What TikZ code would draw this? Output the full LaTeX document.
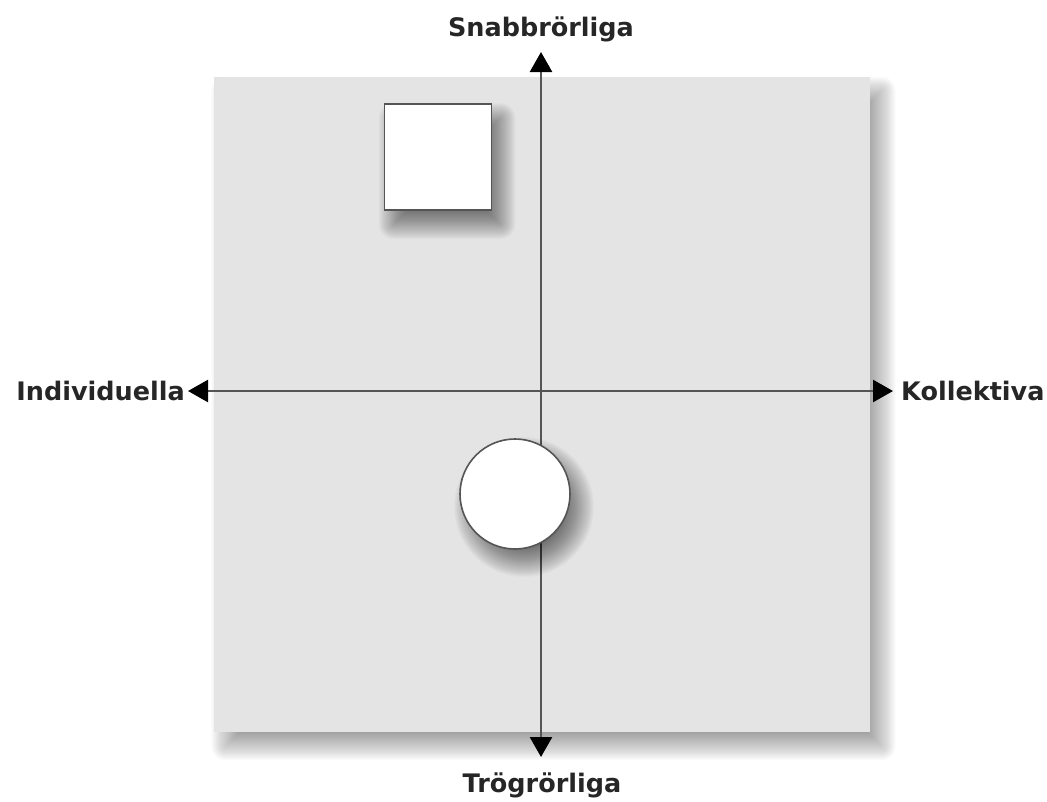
\documentclass[tikz,border=0pt]{standalone}
\usepackage{fontspec}
\setmainfont{DejaVu Sans}
\usetikzlibrary{arrows.meta,calc}
\definecolor{panel}{HTML}{E4E4E4}
\definecolor{axis}{HTML}{555555}
\pgfdeclarelayer{shadowA}
\pgfdeclarelayer{panelL}
\pgfsetlayers{shadowA,panelL,main}
\tikzset{
  axisline/.style={draw=axis, line width=2.6pt, {Triangle[width=22pt,length=20pt,color=black]}-{Triangle[width=22pt,length=20pt,color=black]}},
  lbl/.style={font=\fontsize{25.5}{30}\selectfont\bfseries, text=black!85, inner sep=0pt},
  shadowlayer/.style={fill=black, opacity=0.014},
  whitebox/.style={draw=axis, line width=1.6pt, fill=white}
}
\begin{document}
\begin{tikzpicture}[x=1pt,y=-1pt]
\useasboundingbox (0,0) rectangle (1047,801);
\begin{pgfonlayer}{panelL}
\node[fill=panel, minimum width=656pt, minimum height=655pt, inner sep=0pt] (panel) at (541.5,404.5) {};
\end{pgfonlayer}
\begin{pgfonlayer}{shadowA}
\foreach \e [evaluate=\e as \rc using {max(\e,0.5)}] in {14,13,...,-14}
  \fill[shadowlayer, rounded corners=\rc pt] ($(panel.north west)+(12-\e,14-\e)$) rectangle ($(panel.south east)+(12+\e,14+\e)$);
\end{pgfonlayer}
\coordinate (top) at (541,52);
\coordinate (bot) at (541,757);
\coordinate (left) at (188,391);
\coordinate (right) at (893,391);
\draw[axisline] (bot) -- (top);
\draw[axisline] (left) -- (right);
\coordinate (sqc) at (438,157);
\foreach \e [evaluate=\e as \rc using {max(\e,0.5)}] in {15,14,...,-14}
  \fill[shadowlayer, opacity=0.018, rounded corners=\rc pt] ($(sqc)+(-53.5+9-\e,-53+14-\e)$) rectangle ($(sqc)+(53.5+9+\e,53+14+\e)$);
\node[whitebox, minimum width=107pt, minimum height=106pt, inner sep=0pt] (sq) at (sqc) {};
\coordinate (cic) at (515,494);
\foreach \e in {15,14,...,-14}
  \fill[shadowlayer, opacity=0.018] ($(cic)+(9,13)$) circle[radius=55+\e];
\node[whitebox, circle, minimum size=110pt, inner sep=0pt] (ci) at (cic) {};
\node[lbl, anchor=base] (ntop) at (541,36) {Snabbrörliga};
\node[lbl, anchor=base] (nbot) at (542,792) {Trögrörliga};
\node[lbl, anchor=base east] (nleft) at (185,400) {Individuella};
\node[lbl, anchor=base west] (nright) at (901,400) {Kollektiva};
\end{tikzpicture}
\end{document}
